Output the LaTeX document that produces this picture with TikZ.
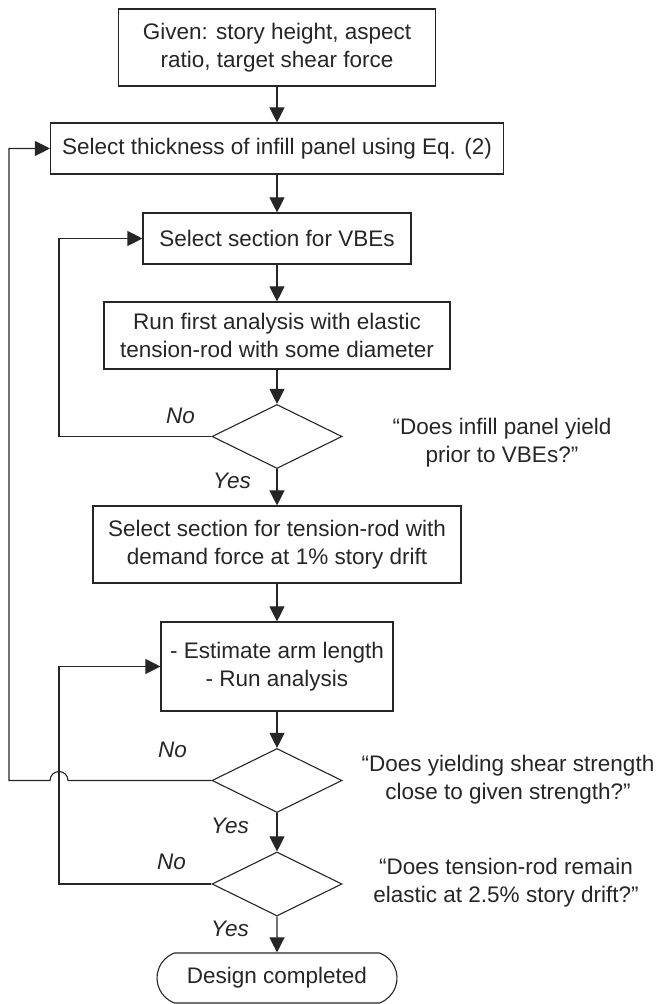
\documentclass[tikz,border=0pt]{standalone}
\usepackage{fontspec}
\setmainfont{Liberation Sans}
\usetikzlibrary{positioning,shapes.geometric,shapes.misc,arrows.meta}

\begin{document}
\begin{tikzpicture}[x=1pt, y=1pt, >={Triangle[length=15pt,width=15pt]},
  line width=1.1pt, black!85, font=\fontsize{22.5}{28}\selectfont,
  process/.style={draw, rectangle, align=center, inner sep=0pt},
  decision/.style={draw, diamond, inner sep=0pt, minimum width=130pt, minimum height=64pt},
  terminal/.style={draw, rounded rectangle, rounded rectangle arc length=140,
    inner sep=0pt, minimum width=240pt, minimum height=50pt},
  answer/.style={font=\fontsize{22.5}{28}\selectfont\itshape},
  question/.style={align=center}]
\useasboundingbox (0,0) rectangle (657,1004);

% main column
\node [process, minimum width=317pt, minimum height=77pt] (given) at (277,956.5)
  {Given: story height, aspect\\ratio, target shear force};
\node [process, minimum width=453pt, minimum height=51pt] (thickness) at (277,855.5)
  {Select thickness of infill panel using Eq. (2)};
\node [process, minimum width=268pt, minimum height=51pt] (vbes) at (277,765.5)
  {Select section for VBEs};
\node [process, minimum width=346pt, minimum height=67pt] (firstrun) at (277,668.5)
  {Run first analysis with elastic\\tension-rod with some diameter};
\node [decision] (yield) at (277,567.5) {};
\node [process, minimum width=368pt, minimum height=77pt] (rodsec) at (277,459.5)
  {Select section for tension-rod with\\demand force at 1\% story drift};
\node [process, minimum width=232pt, minimum height=89pt] (armlen) at (277,337.5)
  {- Estimate arm length\\- Run analysis};
\node [decision] (strength) at (277,223.5) {};
\node [decision] (elastic) at (277,120) {};
\node [terminal] (done) at (277,26) {Design completed};

% questions
\node [question] (q-yield) at (502,561) {“Does infill panel yield\\prior to VBEs?”};
\node [question] (q-strength) at (508,224) {“Does yielding shear strength\\close to given strength?”};
\node [question] (q-elastic) at (506,121) {“Does tension-rod remain\\elastic at 2.5\% story drift?”};

\foreach \d/\nx/\ny/\yx/\yy in {yield/-31/21/-45/-12, strength/-39/31/-47/-13, elastic/-40/22/-47/-12} {
  \node [answer] (no-\d) at ([shift={(\nx,\ny)}]\d.west) {No};
  \node [answer] (yes-\d) at ([shift={(\yx,\yy)}]\d.south) {Yes};
}

\foreach \a/\b in {given/thickness, thickness/vbes, vbes/firstrun, firstrun/yield,
    yield/rodsec, rodsec/armlen, armlen/strength, strength/elastic, elastic/done}
  \draw [->] (\a) -- (\b);

% loops back
\coordinate (inner) at (59,0);
\coordinate (outer) at (9,0);
\draw [->] (yield.west) -- (yield.west -| inner) |- (vbes.west);
\draw [->] (elastic.west) -- (elastic.west -| inner) |- (armlen.west);
\draw [->] (strength.west) -- ([xshift=9pt]strength.west -| inner)
  arc [start angle=0, end angle=180, radius=9pt] -- (strength.west -| outer) |- (thickness.west);
\end{tikzpicture}
\end{document}
